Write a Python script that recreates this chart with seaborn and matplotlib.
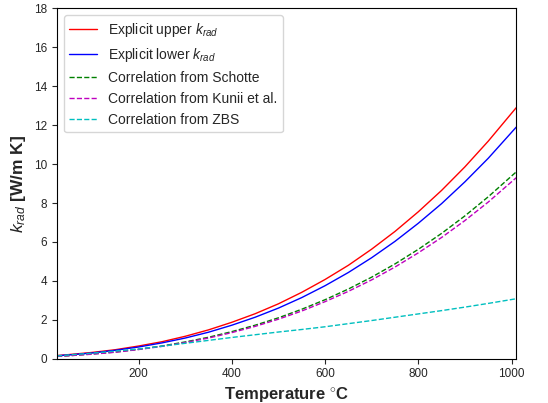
import matplotlib
matplotlib.use("Agg")
import matplotlib.pyplot as plt
import pandas as pd
import seaborn as sns

# temperature in deg C
temp = [25, 50, 100, 150, 200, 250, 300, 350, 400, 450, 500,
        550, 600, 650, 700, 750, 800, 850, 900, 950, 1010]

# k_rad values (W/m K)
k_upper = [0.16, 0.21, 0.32, 0.46, 0.65, 0.87, 1.15, 1.48, 1.87, 2.31, 2.82,
           3.41, 4.07, 4.80, 5.63, 6.54, 7.55, 8.65, 9.86, 11.18, 12.9]
k_lower = [0.15, 0.19, 0.29, 0.43, 0.60, 0.81, 1.06, 1.36, 1.72, 2.13, 2.60,
           3.14, 3.75, 4.43, 5.19, 6.03, 6.96, 7.97, 9.09, 10.30, 11.9]
k_schotte = [0.12, 0.15, 0.24, 0.34, 0.48, 0.65, 0.86, 1.10, 1.39, 1.72, 2.10,
             2.54, 3.03, 3.58, 4.19, 4.87, 5.62, 6.44, 7.34, 8.32, 9.6]
k_kunii = [0.12, 0.15, 0.23, 0.33, 0.47, 0.63, 0.83, 1.06, 1.34, 1.66, 2.03,
           2.45, 2.93, 3.46, 4.05, 4.71, 5.44, 6.23, 7.10, 8.05, 9.3]
k_zbs = [0.14, 0.19, 0.28, 0.39, 0.50, 0.64, 0.79, 0.94, 1.09, 1.23, 1.37,
         1.50, 1.64, 1.80, 1.96, 2.13, 2.30, 2.47, 2.65, 2.84, 3.08]

labels = [r"Explicit upper $k_{rad}$", r"Explicit lower $k_{rad}$",
          "Correlation from Schotte", "Correlation from Kunii et al.",
          "Correlation from ZBS"]
colors = ["r", "b", "g", "m", "c"]
styles = ["-", "-", "--", "--", "--"]

sns.set_style("ticks")
plt.rcParams["font.family"] = ["Liberation Sans", "DejaVu Sans"]
plt.rcParams["axes.edgecolor"] = "black"
plt.rcParams["mathtext.fontset"] = "custom"
plt.rcParams["mathtext.rm"] = "Liberation Sans"
plt.rcParams["mathtext.it"] = "Liberation Sans:italic"
plt.rcParams["mathtext.bf"] = "Liberation Sans:bold"

fig = plt.figure(figsize=(5.48, 4.03), dpi=100)
ax = fig.add_axes([0.104, 0.110, 0.838, 0.869])

for k, lab, c, ls in zip([k_upper, k_lower, k_schotte, k_kunii, k_zbs],
                         labels, colors, styles):
    df = pd.DataFrame({"T": temp, "k": k})
    sns.lineplot(data=df, x="T", y="k", ax=ax, color=c, linestyle=ls,
                 linewidth=1.0, label=lab)

ax.set_xlim(25, 1010)
ax.set_ylim(0, 18)
ax.set_xticks([200, 400, 600, 800, 1000])
ax.set_yticks(range(0, 19, 2))
ax.tick_params(labelsize=8.5, colors=".15", length=3.5)
ax.set_xlabel(r"Temperature $^{\circ}$C", fontsize=12, fontweight="bold",
              labelpad=3)
ax.set_ylabel(r"$k_{rad}$ [W/m K]", fontsize=12.5, fontweight="bold")
ax.legend(loc="upper left", fontsize=10, frameon=True)

fig.savefig("out.png", dpi=100)
